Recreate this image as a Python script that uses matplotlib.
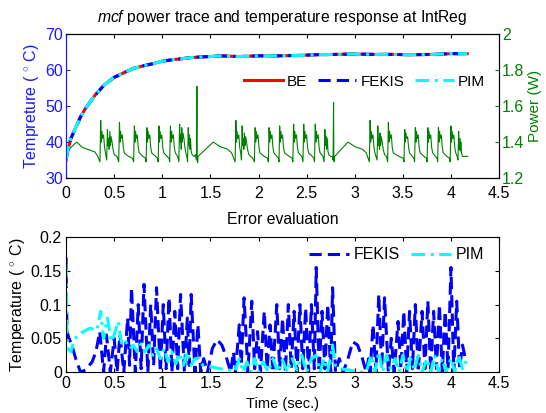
import matplotlib
matplotlib.use('Agg')
import matplotlib.pyplot as plt
import numpy as np

plt.rcParams['font.family'] = ['Liberation Sans', 'DejaVu Sans']
plt.rcParams['mathtext.fontset'] = 'custom'
plt.rcParams['mathtext.rm'] = 'Liberation Sans'
plt.rcParams['mathtext.it'] = 'Liberation Sans:italic'

# temperature response (deg C) at IntReg
temp_t = [0.0, 0.02, 0.05, 0.1, 0.15, 0.2, 0.3, 0.4, 0.5, 0.6, 0.7, 0.8, 0.9, 1.0, 1.1, 1.2,
          1.3, 1.4, 1.5, 1.6, 1.8, 2.0, 2.2, 2.4, 2.6, 2.8, 3.0, 3.2, 3.4, 3.6, 3.8, 4.0, 4.17]
temp_be = [35.0, 38.0, 41.0, 44.0, 47.0, 49.3, 53.0, 56.0, 58.0, 59.3, 60.5, 61.2, 61.8, 62.5, 62.9, 63.2,
           63.5, 63.7, 63.8, 64.0, 63.8, 64.0, 64.0, 64.1, 64.3, 64.4, 64.5, 64.4, 64.4, 64.3, 64.4, 64.6, 64.6]
temp_fekis = [35.1, 38.0, 41.0, 44.0, 47.0, 49.3, 53.0, 56.0, 58.0, 59.3, 60.5, 61.2, 61.8, 62.5, 62.9, 63.2,
              63.5, 63.7, 63.8, 64.0, 63.8, 64.0, 64.0, 64.1, 64.3, 64.4, 64.5, 64.4, 64.4, 64.3, 64.4, 64.6, 64.6]
temp_pim = [35.1, 38.0, 41.0, 44.0, 47.0, 49.3, 53.0, 56.0, 58.0, 59.3, 60.5, 61.2, 61.8, 62.5, 62.9, 63.2,
            63.5, 63.7, 63.8, 64.0, 63.8, 64.0, 64.0, 64.1, 64.3, 64.4, 64.5, 64.4, 64.4, 64.3, 64.4, 64.6, 64.6]

# power trace (time s, power W)
power_trace = [
    (0.00, 1.33), (0.05, 1.37), (0.11, 1.40), (0.17, 1.37), (0.25, 1.355), (0.30, 1.345), (0.33, 1.32), (0.352, 1.29),
    (0.36, 1.52), (0.366, 1.40), (0.372, 1.46), (0.38, 1.42), (0.39, 1.44), (0.40, 1.37), (0.41, 1.34), (0.422, 1.30),
    (0.43, 1.47), (0.436, 1.38), (0.442, 1.42), (0.448, 1.36), (0.455, 1.46), (0.461, 1.38), (0.468, 1.43), (0.478, 1.40),
    (0.488, 1.36), (0.50, 1.33), (0.53, 1.32), (0.547, 1.29),
    (0.555, 1.51), (0.561, 1.40), (0.567, 1.46), (0.575, 1.42), (0.585, 1.44), (0.595, 1.37), (0.605, 1.34), (0.65, 1.32),
    (0.69, 1.31), (0.702, 1.29),
    (0.71, 1.49), (0.716, 1.40), (0.722, 1.46), (0.73, 1.42), (0.74, 1.44), (0.75, 1.37), (0.76, 1.34), (0.80, 1.32),
    (0.825, 1.31), (0.832, 1.29),
    (0.84, 1.48), (0.846, 1.40), (0.852, 1.46), (0.86, 1.42), (0.87, 1.44), (0.88, 1.37), (0.89, 1.34), (0.93, 1.32),
    (0.95, 1.31), (0.957, 1.29),
    (0.965, 1.49), (0.971, 1.40), (0.977, 1.46), (0.985, 1.42), (0.995, 1.44), (1.005, 1.37), (1.015, 1.34), (1.05, 1.32),
    (1.07, 1.31), (1.077, 1.29),
    (1.085, 1.49), (1.091, 1.40), (1.097, 1.46), (1.105, 1.42), (1.115, 1.44), (1.125, 1.37), (1.135, 1.34), (1.16, 1.32),
    (1.172, 1.29),
    (1.18, 1.50), (1.186, 1.40), (1.192, 1.44), (1.197, 1.36), (1.202, 1.48), (1.208, 1.40), (1.215, 1.45), (1.225, 1.42),
    (1.235, 1.37), (1.245, 1.34), (1.255, 1.32), (1.263, 1.29),
    (1.27, 1.48), (1.276, 1.38), (1.282, 1.44), (1.288, 1.36), (1.293, 1.42), (1.30, 1.35), (1.31, 1.33), (1.33, 1.32),
    (1.345, 1.33), (1.355, 1.30),
    (1.36, 1.71), (1.363, 1.31), (1.367, 1.285), (1.372, 1.32),
    (1.45, 1.36), (1.53, 1.40), (1.60, 1.375), (1.68, 1.36), (1.72, 1.34), (1.757, 1.29),
    (1.765, 1.52), (1.771, 1.40), (1.777, 1.46), (1.785, 1.42), (1.795, 1.44), (1.805, 1.37), (1.815, 1.34), (1.823, 1.30),
    (1.83, 1.49), (1.836, 1.38), (1.842, 1.42), (1.848, 1.36), (1.853, 1.45), (1.859, 1.38), (1.866, 1.43), (1.876, 1.40),
    (1.886, 1.36), (1.90, 1.33), (1.94, 1.31), (1.957, 1.29),
    (1.965, 1.48), (1.971, 1.40), (1.977, 1.46), (1.985, 1.42), (1.995, 1.44), (2.005, 1.37), (2.015, 1.34), (2.06, 1.32),
    (2.095, 1.31), (2.102, 1.29),
    (2.11, 1.48), (2.116, 1.40), (2.122, 1.46), (2.13, 1.42), (2.14, 1.44), (2.15, 1.37), (2.16, 1.34), (2.19, 1.32),
    (2.207, 1.31), (2.213, 1.29),
    (2.22, 1.49), (2.226, 1.40), (2.232, 1.46), (2.24, 1.42), (2.25, 1.44), (2.26, 1.37), (2.27, 1.34), (2.32, 1.32),
    (2.35, 1.31), (2.357, 1.29),
    (2.365, 1.50), (2.371, 1.40), (2.377, 1.46), (2.385, 1.42), (2.395, 1.44), (2.405, 1.37), (2.415, 1.34), (2.45, 1.32),
    (2.462, 1.29),
    (2.47, 1.50), (2.476, 1.40), (2.482, 1.46), (2.49, 1.42), (2.50, 1.44), (2.51, 1.37), (2.52, 1.34), (2.56, 1.32),
    (2.575, 1.31), (2.582, 1.29),
    (2.59, 1.50), (2.596, 1.40), (2.602, 1.46), (2.61, 1.42), (2.62, 1.44), (2.63, 1.37), (2.64, 1.34), (2.67, 1.32),
    (2.682, 1.29),
    (2.69, 1.47), (2.696, 1.38), (2.702, 1.43), (2.708, 1.36), (2.715, 1.42), (2.722, 1.35), (2.73, 1.33), (2.75, 1.32),
    (2.765, 1.32), (2.775, 1.30),
    (2.78, 1.62), (2.783, 1.31), (2.787, 1.29), (2.792, 1.32),
    (2.86, 1.36), (2.93, 1.40), (3.00, 1.375), (3.08, 1.36), (3.12, 1.34), (3.152, 1.29),
    (3.16, 1.52), (3.166, 1.40), (3.172, 1.46), (3.18, 1.42), (3.19, 1.44), (3.20, 1.37), (3.21, 1.34), (3.232, 1.30),
    (3.24, 1.49), (3.246, 1.38), (3.252, 1.42), (3.258, 1.36), (3.263, 1.45), (3.269, 1.38), (3.276, 1.43), (3.286, 1.40),
    (3.296, 1.36), (3.31, 1.33), (3.33, 1.32), (3.342, 1.29),
    (3.35, 1.51), (3.356, 1.40), (3.362, 1.46), (3.37, 1.42), (3.38, 1.44), (3.39, 1.37), (3.40, 1.34), (3.46, 1.32),
    (3.505, 1.31), (3.512, 1.29),
    (3.52, 1.47), (3.526, 1.40), (3.532, 1.45), (3.54, 1.42), (3.55, 1.43), (3.56, 1.37), (3.57, 1.34), (3.60, 1.32),
    (3.615, 1.31), (3.622, 1.29),
    (3.63, 1.48), (3.636, 1.40), (3.642, 1.46), (3.65, 1.42), (3.66, 1.44), (3.67, 1.37), (3.68, 1.34), (3.72, 1.32),
    (3.745, 1.31), (3.752, 1.29),
    (3.76, 1.48), (3.766, 1.40), (3.772, 1.46), (3.78, 1.42), (3.79, 1.44), (3.80, 1.37), (3.81, 1.34), (3.84, 1.32),
    (3.855, 1.31), (3.862, 1.29),
    (3.87, 1.48), (3.876, 1.40), (3.882, 1.46), (3.89, 1.42), (3.90, 1.44), (3.91, 1.37), (3.92, 1.34), (3.96, 1.32),
    (3.985, 1.31), (3.992, 1.29),
    (4.00, 1.49), (4.006, 1.40), (4.012, 1.46), (4.02, 1.42), (4.03, 1.44), (4.04, 1.37), (4.05, 1.34), (4.065, 1.32),
    (4.073, 1.30),
    (4.08, 1.46), (4.086, 1.36), (4.092, 1.42), (4.098, 1.35), (4.103, 1.40), (4.11, 1.34), (4.12, 1.32), (4.15, 1.32),
    (4.175, 1.32),
]

# absolute error vs BE (deg C)
fekis_err = [
    (0.0, 0.17), (0.005, 0.10), (0.01, 0.06), (0.03, 0.05), (0.06, 0.04), (0.1, 0.02), (0.15, 0.0), (0.2, 0.003),
    (0.27, 0.015), (0.31, 0.03),
    (0.35, 0.06), (0.39, 0.0), (0.42, 0.055), (0.46, 0.0), (0.50, 0.05), (0.53, 0.0), (0.56, 0.055), (0.60, 0.0),
    (0.64, 0.08), (0.66, 0.01), (0.68, 0.125), (0.72, 0.0), (0.75, 0.10), (0.78, 0.005), (0.81, 0.13), (0.85, 0.0),
    (0.88, 0.10), (0.91, 0.01), (0.94, 0.125), (0.98, 0.0), (1.01, 0.10), (1.04, 0.005), (1.07, 0.11), (1.10, 0.0),
    (1.13, 0.09), (1.16, 0.005), (1.19, 0.115), (1.23, 0.0), (1.26, 0.08), (1.28, 0.01), (1.30, 0.115), (1.34, 0.0),
    (1.37, 0.07), (1.40, 0.0), (1.43, 0.02), (1.47, 0.0),
    (1.52, 0.035), (1.57, 0.048), (1.62, 0.04), (1.67, 0.02), (1.71, 0.0), (1.74, 0.03), (1.76, 0.0),
    (1.80, 0.07), (1.82, 0.01), (1.85, 0.11), (1.89, 0.0), (1.93, 0.105), (1.96, 0.005), (1.99, 0.06), (2.02, 0.0),
    (2.06, 0.09), (2.09, 0.005), (2.12, 0.07), (2.15, 0.0), (2.19, 0.10), (2.22, 0.005), (2.25, 0.08), (2.28, 0.0),
    (2.31, 0.10), (2.34, 0.005), (2.37, 0.09), (2.40, 0.0), (2.43, 0.10), (2.46, 0.005), (2.49, 0.095), (2.52, 0.0),
    (2.55, 0.10), (2.58, 0.005), (2.60, 0.155), (2.63, 0.0), (2.66, 0.09), (2.69, 0.005), (2.72, 0.10), (2.75, 0.0),
    (2.77, 0.125), (2.80, 0.0), (2.84, 0.02), (2.88, 0.0),
    (2.93, 0.02), (2.98, 0.045), (3.03, 0.04), (3.08, 0.02), (3.12, 0.0), (3.145, 0.02), (3.16, 0.0),
    (3.19, 0.07), (3.22, 0.0), (3.25, 0.115), (3.28, 0.005), (3.31, 0.11), (3.35, 0.0), (3.38, 0.05), (3.41, 0.0),
    (3.45, 0.075), (3.48, 0.005), (3.51, 0.09), (3.54, 0.0), (3.57, 0.09), (3.60, 0.005), (3.63, 0.10), (3.66, 0.0),
    (3.70, 0.09), (3.73, 0.005), (3.76, 0.105), (3.79, 0.0), (3.82, 0.09), (3.85, 0.005), (3.88, 0.10), (3.91, 0.0),
    (3.94, 0.09), (3.97, 0.005), (4.00, 0.155), (4.03, 0.0), (4.06, 0.105), (4.09, 0.005), (4.12, 0.04), (4.15, 0.02),
    (4.17, 0.02),
]
pim_err = [
    (0.0, 0.16), (0.005, 0.12), (0.01, 0.05), (0.02, 0.035), (0.05, 0.03), (0.08, 0.045), (0.12, 0.055), (0.18, 0.06),
    (0.25, 0.065), (0.32, 0.062), (0.36, 0.09), (0.39, 0.05), (0.43, 0.08), (0.47, 0.045), (0.50, 0.055),
    (0.54, 0.075), (0.58, 0.04), (0.62, 0.045), (0.66, 0.035), (0.70, 0.04), (0.74, 0.03), (0.78, 0.042), (0.82, 0.03),
    (0.86, 0.04), (0.90, 0.025), (0.94, 0.035), (0.98, 0.02), (1.02, 0.035), (1.06, 0.015), (1.10, 0.03), (1.14, 0.012),
    (1.18, 0.028), (1.22, 0.01), (1.26, 0.03), (1.30, 0.01), (1.34, 0.02), (1.38, 0.02), (1.42, 0.01), (1.50, 0.008),
    (1.60, 0.005), (1.70, 0.003), (1.75, 0.0), (1.80, 0.02), (1.84, 0.0), (1.88, 0.015), (1.92, 0.0), (1.96, 0.02),
    (2.00, 0.0), (2.05, 0.015), (2.10, 0.0), (2.15, 0.02), (2.20, 0.0), (2.25, 0.018), (2.30, 0.0), (2.35, 0.02),
    (2.40, 0.003), (2.45, 0.025), (2.50, 0.0), (2.55, 0.02), (2.60, 0.025), (2.64, 0.0), (2.68, 0.02), (2.72, 0.0),
    (2.77, 0.04), (2.80, 0.01), (2.85, 0.005), (2.95, 0.003), (3.05, 0.0), (3.12, 0.0), (3.17, 0.025), (3.21, 0.0),
    (3.25, 0.03), (3.29, 0.0), (3.33, 0.025), (3.37, 0.005), (3.42, 0.02), (3.46, 0.0), (3.50, 0.025), (3.54, 0.0),
    (3.58, 0.02), (3.62, 0.003), (3.66, 0.025), (3.70, 0.0), (3.75, 0.02), (3.79, 0.0), (3.83, 0.025), (3.87, 0.0),
    (3.91, 0.02), (3.95, 0.0), (4.00, 0.02), (4.04, 0.0), (4.08, 0.025), (4.12, 0.005), (4.15, 0.015), (4.17, 0.01),
]

BLUE = '#1a1aff'
GREEN = '#008000'
DASH = (0, (4, 2))
DASHDOT = (0, (4.5, 1.8, 1, 1.8))

fig = plt.figure(figsize=(5.46, 4.13), dpi=100)
ax1 = fig.add_axes([0.121, 0.569, 0.793, 0.348])
ax2 = ax1.twinx()
ax3 = fig.add_axes([0.121, 0.099, 0.793, 0.327])

# top panel
pt, pw = zip(*power_trace)
ax2.plot(pt, pw, color=GREEN, lw=0.8)
ax1.plot(temp_t, temp_be, color='red', lw=2.2, label='BE')
ax1.plot(temp_t, temp_fekis, color='blue', lw=2.2, ls=DASH, label='FEKIS')
ax1.plot(temp_t, temp_pim, color='cyan', lw=2.2, ls=DASHDOT, label='PIM')
ax1.set_zorder(ax2.get_zorder() + 1)
ax1.patch.set_visible(False)

xt = np.arange(0, 4.51, 0.5)
xtl = ['0', '0.5', '1', '1.5', '2', '2.5', '3', '3.5', '4', '4.5']
ax1.set_xlim(0, 4.5)
ax1.set_ylim(30, 70)
ax1.set_yticks([30, 40, 50, 60, 70])
ax1.set_xticks(xt)
ax1.set_xticklabels(xtl)
ax2.set_ylim(1.2, 2.0)
ax2.set_yticks([1.2, 1.4, 1.6, 1.8, 2.0])
ax2.set_yticklabels(['1.2', '1.4', '1.6', '1.8', '2'])
ax1.tick_params(axis='y', colors=BLUE, labelsize=11.5, direction='in', length=3, pad=2)
ax1.tick_params(axis='x', labelsize=11.5, direction='in', length=3, top=True, pad=6)
ax2.tick_params(axis='y', colors=GREEN, labelsize=11.5, direction='in', length=3, pad=2)
ax1.spines['left'].set_color(BLUE)
ax2.spines['left'].set_color(BLUE)
ax2.spines['right'].set_color('#0b4f4f')
ax1.set_ylabel(r'Tempreture ( $^{\circ}$ C)', color=BLUE, fontsize=11.5, labelpad=3)
ax2.set_ylabel('Power (W)', color=GREEN, fontsize=11, labelpad=3)
ax1.set_title(r'$\it{mcf}$ power trace and temperature response at IntReg', fontsize=11.3, pad=8.5)
ax1.legend(loc='center right', bbox_to_anchor=(1.0, 0.67), ncol=3, frameon=False, fontsize=11,
           handlelength=2.5, columnspacing=0.7, handletextpad=0.3)

# bottom panel
ft, fe = zip(*fekis_err)
mt, me = zip(*pim_err)
ax3.plot(ft, fe, color='blue', lw=2.2, ls=DASH, label='FEKIS')
ax3.plot(mt, me, color='cyan', lw=2.2, ls=DASHDOT, label='PIM')
ax3.set_xlim(0, 4.5)
ax3.set_ylim(0, 0.2)
ax3.set_xticks(xt)
ax3.set_xticklabels(xtl)
ax3.set_yticks([0, 0.05, 0.1, 0.15, 0.2])
ax3.set_yticklabels(['0', '0.05', '0.1', '0.15', '0.2'])
ax3.tick_params(labelsize=11.5, direction='in', length=3, top=True, right=True, pad=3)
ax3.set_ylabel(r'Temperature ( $^{\circ}$ C)', fontsize=11.5, labelpad=3)
ax3.set_xlabel('Time (sec.)', fontsize=10.5, labelpad=4)
ax3.set_title('Error evaluation', fontsize=11.3, pad=9.5)
ax3.legend(loc='center right', bbox_to_anchor=(1.0, 0.87), ncol=2, frameon=False, fontsize=11.5,
           handlelength=2.5, columnspacing=0.7, handletextpad=0.3)

fig.savefig('out.png', dpi=100)
